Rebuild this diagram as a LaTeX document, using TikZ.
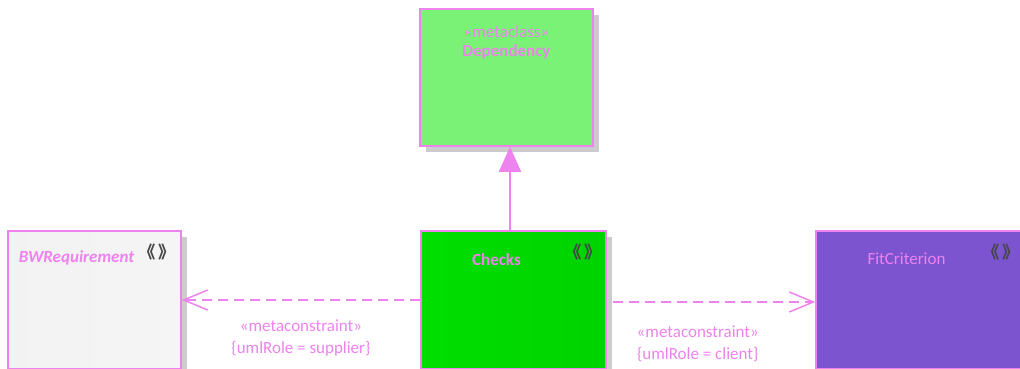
\documentclass[tikz,border=0pt]{standalone}
\usepackage{fontspec}
\setmainfont{Carlito}
\newfontfamily\cjk{Noto Sans CJK SC}
\usetikzlibrary{positioning,arrows.meta,shadows}
\definecolor{umlpink}{RGB}{238,130,238}
\definecolor{umlgray}{RGB}{204,204,204}
\definecolor{icongray}{RGB}{70,70,70}
\definecolor{depgreen}{RGB}{122,242,118}
\definecolor{deplight}{RGB}{156,250,146}
\definecolor{chkgreen}{RGB}{0,222,0}
\definecolor{chklight}{RGB}{0,240,0}
\definecolor{fitviolet}{RGB}{125,84,208}
\definecolor{fitlight}{RGB}{146,112,220}
\begin{document}
\begin{tikzpicture}[
      x=1pt, y=-1pt,
      umlbox/.style={rectangle, draw=umlpink, line width=1.5pt, inner sep=0pt,
                  drop shadow={shadow xshift=6pt, shadow yshift=-6pt,
                  fill=umlgray, opacity=1}},
      depbox/.style={umlbox, minimum width=173pt, minimum height=137pt,
                  left color=depgreen, middle color=deplight, right color=depgreen},
      chkbox/.style={umlbox, minimum width=185pt, minimum height=138pt,
                  left color=chkgreen, middle color=chklight, right color=chkgreen!95!black},
      reqbox/.style={umlbox, minimum width=173pt, minimum height=138pt,
                  left color=white!90!gray, middle color=white, right color=white!92!gray},
      fitbox/.style={umlbox, minimum width=205pt, minimum height=138pt,
                  left color=fitviolet, middle color=fitlight, right color=fitviolet},
      stereo/.style={text=umlpink, font=\fontsize{17}{22}\selectfont, inner sep=0pt},
      title/.style={stereo, font=\fontsize{17}{22}\selectfont\bfseries},
      icon/.style={text=icongray, font=\cjk\bfseries\fontsize{17}{17}\selectfont, inner sep=0pt},
      gen/.style={-{Triangle[width=22pt,length=25pt,fill=umlpink]}, draw=umlpink, line width=1.6pt},
      dep/.style={-{Straight Barb[width=20pt,length=24pt,line width=1.5pt]}, draw=umlpink,
                  line width=1.5pt, dash pattern=on 10pt off 6pt},
      role/.style={text=umlpink, font=\fontsize{17}{22}\selectfont, align=center, inner sep=0pt}
    ]
    \useasboundingbox (0,0) rectangle (1020,369);
    \node[depbox] (dep) at (506.5,77.5) {};
    \node[chkbox] (chk) at (513.5,300) {};
    \node[reqbox] (req) at (94.5,300) {};
    \node[fitbox] (fit) at (918.5,300) {};

    \node[stereo] (depst) at ([yshift=-23pt]dep.north) {«metaclass»};
    \node[title] (depname) at ([yshift=-44pt]dep.north) {Dependency};
    \node[title] (chkname) at ([xshift=-17pt,yshift=-29pt]chk.north) {Checks};
    \node[icon] (chkicon) at ([xshift=-24pt,yshift=-22pt]chk.north east) {《\,》};
    \node[title, font=\fontsize{17}{22}\selectfont\bfseries\itshape] (reqname)
      at ([xshift=-18pt,yshift=-28pt]req.north) {BWRequirement};
    \node[icon] (reqicon) at ([xshift=-25pt,yshift=-22pt]req.north east) {《\,》};
    \node[title, font=\fontsize{17}{22}\selectfont] (fitname)
      at ([xshift=-12pt,yshift=-28pt]fit.north) {FitCriterion};
    \node[icon] (fiticon) at ([xshift=-21pt,yshift=-22pt]fit.north east) {《\,》};

    \draw[gen] ([xshift=-3.5pt]chk.north) -- ([xshift=-3.5pt]chk.north |- dep.south);
    \draw[dep] (chk.west) -- (req.east)
      node[role, pos=0.5, anchor=north, yshift=-19pt] (reqrole)
      {«metaconstraint»\\{\{umlRole = supplier\}}};
    \draw[dep] ([xshift=6pt,yshift=-2pt]chk.east) -- ([yshift=-2pt]fit.west)
      node[role, pos=0.42, anchor=north, yshift=-23pt] (fitrole)
      {«metaconstraint»\\{\{umlRole = client\}}};
  \end{tikzpicture}
\end{document}
